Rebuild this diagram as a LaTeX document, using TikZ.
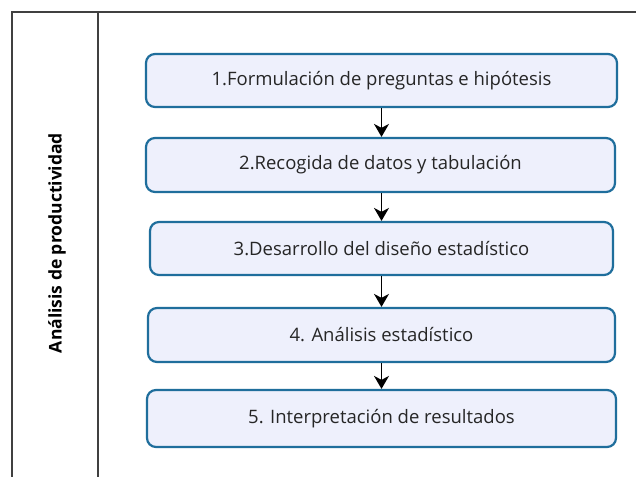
\documentclass[tikz,border=0pt]{standalone}
\usepackage{fontspec}
\setmainfont{Open Sans}
\usetikzlibrary{arrows.meta}
\definecolor{boxfill}{HTML}{EEF0FC}
\definecolor{boxline}{HTML}{1F6E9C}
\definecolor{frameline}{HTML}{404040}
\begin{document}
\begin{tikzpicture}[x=1pt,y=-1pt,
  stepbox/.style={draw=boxline,line width=2.2pt,fill=boxfill,rounded corners=9pt,
    inner sep=0pt,font=\fontsize{18.5}{22}\selectfont,text=black!85},
  flow/.style={-{Stealth[length=13pt,width=15pt,inset=4pt]},line width=1.8pt,black}]
\useasboundingbox (0,0) rectangle (636,476);
\clip (0,0) rectangle (636,476);
\fill[white] (0,0) rectangle (636,476);
% frame
\draw[frameline,line width=1.6pt] (12,490) -- (12,12) -- (650,12);
\draw[frameline,line width=1.6pt] (98,12) -- (98,490);
\node[rotate=90,font=\bfseries\fontsize{17.5}{20}\selectfont] (lab) at (57,243) {Análisis de productividad};
% boxes
\node[stepbox,minimum width=471pt,minimum height=53pt] (b1) at (381.5,80.5) {1.Formulación de preguntas e hipótesis};
\node[stepbox,minimum width=469pt,minimum height=54pt] (b2) at (380.5,165) {2.Recogida de datos y tabulación};
\node[stepbox,minimum width=463pt,minimum height=53pt] (b3) at (381.5,248.5) {3.Desarrollo del diseño estadístico};
\node[stepbox,minimum width=467pt,minimum height=54pt] (b4) at (381.5,335) {4. Análisis estadístico};
\node[stepbox,minimum width=469pt,minimum height=57pt] (b5) at (381.5,418.5) {5. Interpretación de resultados};
\draw[flow] (b1.south) -- (b1.south |- b2.north);
\draw[flow] (b2.south -| b1.south) -- (b1.south |- b3.north);
\draw[flow] (b3.south) -- (b3.south |- b4.north);
\draw[flow] (b4.south) -- (b4.south |- b5.north);
\end{tikzpicture}
\end{document}
